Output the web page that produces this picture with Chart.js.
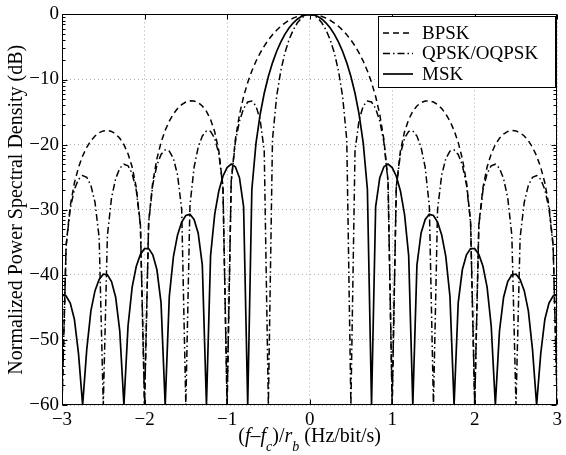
<!DOCTYPE html>
<html>
<head>
<meta charset="utf-8">
<script src="https://cdn.jsdelivr.net/npm/chart.js@4.4.0/dist/chart.umd.min.js"></script>
<style>
  html, body { margin: 0; padding: 0; background: #fff; }
  #wrap { width: 566px; height: 455px; }
</style>
</head>
<body>
<div id="wrap"><canvas id="psd" width="566" height="455"></canvas></div>
<script>
// normalised frequency (f - fc) / rb
var freq = [
  -3, -2.95, -2.9, -2.85, -2.8, -2.75, -2.7, -2.65, -2.6, -2.55,
  -2.5, -2.45, -2.4, -2.35, -2.3, -2.25, -2.2, -2.15, -2.1, -2.05,
  -2, -1.95, -1.9, -1.85, -1.8, -1.75, -1.7, -1.65, -1.6, -1.55,
  -1.5, -1.45, -1.4, -1.35, -1.3, -1.25, -1.2, -1.15, -1.1, -1.05,
  -1, -0.95, -0.9, -0.85, -0.8, -0.75, -0.7, -0.65, -0.6, -0.55,
  -0.5, -0.45, -0.4, -0.35, -0.3, -0.25, -0.2, -0.15, -0.1, -0.05,
  0,
  0.05, 0.1, 0.15, 0.2, 0.25, 0.3, 0.35, 0.4, 0.45, 0.5,
  0.55, 0.6, 0.65, 0.7, 0.75, 0.8, 0.85, 0.9, 0.95, 1,
  1.05, 1.1, 1.15, 1.2, 1.25, 1.3, 1.35, 1.4, 1.45, 1.5,
  1.55, 1.6, 1.65, 1.7, 1.75, 1.8, 1.85, 1.9, 1.95, 2,
  2.05, 2.1, 2.15, 2.2, 2.25, 2.3, 2.35, 2.4, 2.45, 2.5,
  2.55, 2.6, 2.65, 2.7, 2.75, 2.8, 2.85, 2.9, 2.95, 3
];

// dB values, nulls sit on the -60 floor
var bpsk = [
  -60, -35.45, -29.39, -25.9, -23.5, -21.74, -20.41, -19.41, -18.68, -18.18,
  -17.9, -17.83, -17.98, -18.37, -19.02, -20.0, -21.41, -23.45, -26.59, -32.29,
  -60, -31.86, -25.72, -22.15, -19.66, -17.81, -16.39, -15.29, -14.46, -13.86,
  -13.46, -13.28, -13.3, -13.55, -14.06, -14.89, -16.14, -18.02, -20.97, -26.48,
  -60, -25.61, -19.23, -15.39, -12.62, -10.45, -8.69, -7.2, -5.94, -4.86,
  -3.92, -3.12, -2.42, -1.83, -1.33, -0.91, -0.58, -0.32, -0.14, -0.04,
  0,
  -0.04, -0.14, -0.32, -0.58, -0.91, -1.33, -1.83, -2.42, -3.12, -3.92,
  -4.86, -5.94, -7.2, -8.69, -10.45, -12.62, -15.39, -19.23, -25.61, -60,
  -26.48, -20.97, -18.02, -16.14, -14.89, -14.06, -13.55, -13.3, -13.28, -13.46,
  -13.86, -14.46, -15.29, -16.39, -17.81, -19.66, -22.15, -25.72, -31.86, -60,
  -32.29, -26.59, -23.45, -21.41, -20.0, -19.02, -18.37, -17.98, -17.83, -17.9,
  -18.18, -18.68, -19.41, -20.41, -21.74, -23.5, -25.9, -29.39, -35.45, -60
];

var qpsk = [
  -60, -35.56, -29.83, -26.9, -25.34, -24.75, -25.03, -26.27, -28.88, -34.29,
  -60, -33.95, -28.18, -25.23, -23.63, -23.01, -23.25, -24.45, -27.02, -32.4,
  -60, -31.96, -26.16, -23.15, -21.51, -20.82, -21.01, -22.15, -24.66, -29.97,
  -60, -29.39, -23.5, -20.41, -18.68, -17.9, -17.98, -19.02, -21.41, -26.59,
  -60, -25.72, -19.66, -16.39, -14.46, -13.46, -13.3, -14.06, -16.14, -20.97,
  -60, -19.23, -12.62, -8.69, -5.94, -3.92, -2.42, -1.33, -0.58, -0.14,
  0,
  -0.14, -0.58, -1.33, -2.42, -3.92, -5.94, -8.69, -12.62, -19.23, -60,
  -20.97, -16.14, -14.06, -13.3, -13.46, -14.46, -16.39, -19.66, -25.72, -60,
  -26.59, -21.41, -19.02, -17.98, -17.9, -18.68, -20.41, -23.5, -29.39, -60,
  -29.97, -24.66, -22.15, -21.01, -20.82, -21.51, -23.15, -26.16, -31.96, -60,
  -32.4, -27.02, -24.45, -23.25, -23.01, -23.63, -25.23, -28.18, -33.95, -60,
  -34.29, -28.88, -26.27, -25.03, -24.75, -25.34, -26.9, -29.83, -35.56, -60
];

var msk = [
  -43.11, -43.25, -44.35, -46.83, -52.1, -60, -51.46, -45.55, -42.44, -40.7,
  -39.91, -39.99, -41.04, -43.44, -48.65, -60, -47.87, -41.88, -38.69, -36.86,
  -35.99, -35.98, -36.92, -39.23, -44.32, -60, -43.31, -37.2, -33.87, -31.9,
  -30.88, -30.71, -31.49, -33.61, -38.51, -60, -37.06, -30.71, -27.12, -24.86,
  -23.52, -23.0, -23.4, -25.09, -29.51, -60, -26.9, -19.82, -15.39, -12.12,
  -9.54, -7.44, -5.7, -4.26, -3.07, -2.1, -1.33, -0.74, -0.33, -0.08,
  0,
  -0.08, -0.33, -0.74, -1.33, -2.1, -3.07, -4.26, -5.7, -7.44, -9.54,
  -12.12, -15.39, -19.82, -26.9, -60, -29.51, -25.09, -23.4, -23.0, -23.52,
  -24.86, -27.12, -30.71, -37.06, -60, -38.51, -33.61, -31.49, -30.71, -30.88,
  -31.9, -33.87, -37.2, -43.31, -60, -44.32, -39.23, -36.92, -35.98, -35.99,
  -36.86, -38.69, -41.88, -47.87, -60, -48.65, -43.44, -41.04, -39.99, -39.91,
  -40.7, -42.44, -45.55, -51.46, -60, -52.1, -46.83, -44.35, -43.25, -43.11
];

var seriesNames = ["BPSK", "QPSK/OQPSK", "MSK"];
var xTicks = [-3, -2, -1, 0, 1, 2, 3];
var yTicks = [-60, -50, -40, -30, -20, -10, 0];

var serif = '"Liberation Serif", "Times New Roman", serif';

function xy(values) {
  return freq.map((f, i) => ({ x: f, y: values[i] }));
}

function minus(v) {
  return String(v).replace("-", "\u2212");
}

// box, inward ticks (MATLAB style) and the odd log-spaced minor ticks on y
var frame = {
  id: "frame",
  afterDatasetsDraw(chart) {
    var ctx = chart.ctx;
    var a = chart.chartArea;
    var xs = chart.scales.x;
    var ys = chart.scales.y;
    var L = Math.round(a.left) + 0.5;
    var R = Math.round(a.right) - 0.5;
    var T = Math.round(a.top) + 0.5;
    var B = Math.round(a.bottom) - 0.5;
    ctx.save();
    ctx.strokeStyle = "#000";
    ctx.lineWidth = 1;
    ctx.beginPath();
    ctx.rect(L, T, R - L, B - T);
    xTicks.forEach((v) => {
      var px = Math.round(xs.getPixelForValue(v)) + 0.5;
      ctx.moveTo(px, B);
      ctx.lineTo(px, B - 5);
      ctx.moveTo(px, T);
      ctx.lineTo(px, T + 5);
    });
    yTicks.forEach((v) => {
      var py = Math.round(ys.getPixelForValue(v)) + 0.5;
      ctx.moveTo(L, py);
      ctx.lineTo(L + 5, py);
      ctx.moveTo(R, py);
      ctx.lineTo(R - 5, py);
    });
    for (var top = 0; top > -60; top -= 10) {
      for (var k = 2; k <= 9; k++) {
        var py = Math.round(ys.getPixelForValue(top - 10 + 10 * Math.log10(k))) + 0.5;
        ctx.moveTo(L, py);
        ctx.lineTo(L + 3, py);
        ctx.moveTo(R, py);
        ctx.lineTo(R - 3, py);
      }
    }
    ctx.stroke();
    ctx.restore();
  },
};

var legendBox = {
  id: "legendBox",
  afterDraw(chart) {
    var ctx = chart.ctx;
    ctx.save();
    ctx.fillStyle = "#fff";
    ctx.strokeStyle = "#000";
    ctx.lineWidth = 1;
    ctx.fillRect(378.5, 16.5, 177, 71);
    ctx.strokeRect(378.5, 16.5, 177, 71);
    var rows = [33, 53.5, 74];
    chart.data.datasets.forEach((ds, i) => {
      ctx.beginPath();
      ctx.setLineDash(ds.borderDash || []);
      ctx.lineWidth = ds.borderWidth;
      ctx.moveTo(383, rows[i]);
      ctx.lineTo(413, rows[i]);
      ctx.stroke();
      ctx.setLineDash([]);
      ctx.fillStyle = "#000";
      ctx.font = "19px " + serif;
      ctx.textBaseline = "middle";
      ctx.textAlign = "left";
      ctx.fillText(ds.label, 422, rows[i] + 1);
    });
    ctx.restore();
  },
};

// x title has italics and subscripts, so it is set by hand
var xTitle = {
  id: "xTitle",
  afterDraw(chart) {
    var ctx = chart.ctx;
    var a = chart.chartArea;
    var parts = [
      ["(", "", 0],
      ["f", "italic ", 0],
      ["\u2013", "", 0],
      ["f", "italic ", 0],
      ["c", "italic ", 1],
      [")/", "", 0],
      ["r", "italic ", 0],
      ["b", "italic ", 1],
      [" (Hz/bit/s)", "", 0],
    ];
    ctx.save();
    ctx.fillStyle = "#000";
    ctx.textBaseline = "alphabetic";
    ctx.textAlign = "left";
    var fontOf = (p) => p[1] + (p[2] ? "14px " : "20px ") + serif;
    var total = 0;
    parts.forEach((p) => {
      ctx.font = fontOf(p);
      total += ctx.measureText(p[0]).width;
    });
    var x = (a.left + a.right) / 2 - total / 2;
    parts.forEach((p) => {
      ctx.font = fontOf(p);
      ctx.fillText(p[0], x, p[2] ? 451 : 442);
      x += ctx.measureText(p[0]).width;
    });
    ctx.restore();
  },
};

var tickFont = { family: serif, size: 19 };

new Chart(document.getElementById("psd"), {
  type: "line",
  data: {
    datasets: [
      {
        label: seriesNames[0],
        data: xy(bpsk),
        borderColor: "#000",
        borderWidth: 1.5,
        borderDash: [6, 4],
        pointRadius: 0,
        tension: 0,
      },
      {
        label: seriesNames[1],
        data: xy(qpsk),
        borderColor: "#000",
        borderWidth: 1.5,
        borderDash: [7, 3, 1.5, 3],
        pointRadius: 0,
        tension: 0,
      },
      {
        label: seriesNames[2],
        data: xy(msk),
        borderColor: "#000",
        borderWidth: 1.7,
        pointRadius: 0,
        tension: 0,
      },
    ],
  },
  options: {
    responsive: false,
    animation: false,
    devicePixelRatio: 1,
    layout: { padding: { left: 0, right: 7, top: 12, bottom: 0 } },
    scales: {
      x: {
        type: "linear",
        min: -3,
        max: 3,
        afterBuildTicks: (s) => (s.ticks = xTicks.map((v) => ({ value: v }))),
        afterFit: (s) => (s.height = 50),
        ticks: {
          font: tickFont,
          color: "#000",
          padding: 4,
          maxRotation: 0,
          autoSkip: false,
          callback: minus,
        },
        grid: { color: "#b0b0b0", lineWidth: 1, drawTicks: false },
        border: { display: false, dash: [1, 3] },
      },
      y: {
        type: "linear",
        min: -60,
        max: 0,
        afterBuildTicks: (s) => (s.ticks = yTicks.map((v) => ({ value: v }))),
        afterFit: (s) => (s.width = 62),
        ticks: {
          font: tickFont,
          color: "#000",
          padding: 3,
          callback: minus,
        },
        grid: { color: "#b0b0b0", lineWidth: 1, drawTicks: false },
        border: { display: false, dash: [1, 3] },
        title: {
          display: true,
          text: "Normalized Power Spectral Density (dB)",
          color: "#000",
          font: { family: serif, size: 20 },
          padding: { top: 5, bottom: 0 },
        },
      },
    },
    plugins: {
      legend: { display: false },
      tooltip: { enabled: false },
    },
  },
  plugins: [frame, legendBox, xTitle],
});
</script>
</body>
</html>
